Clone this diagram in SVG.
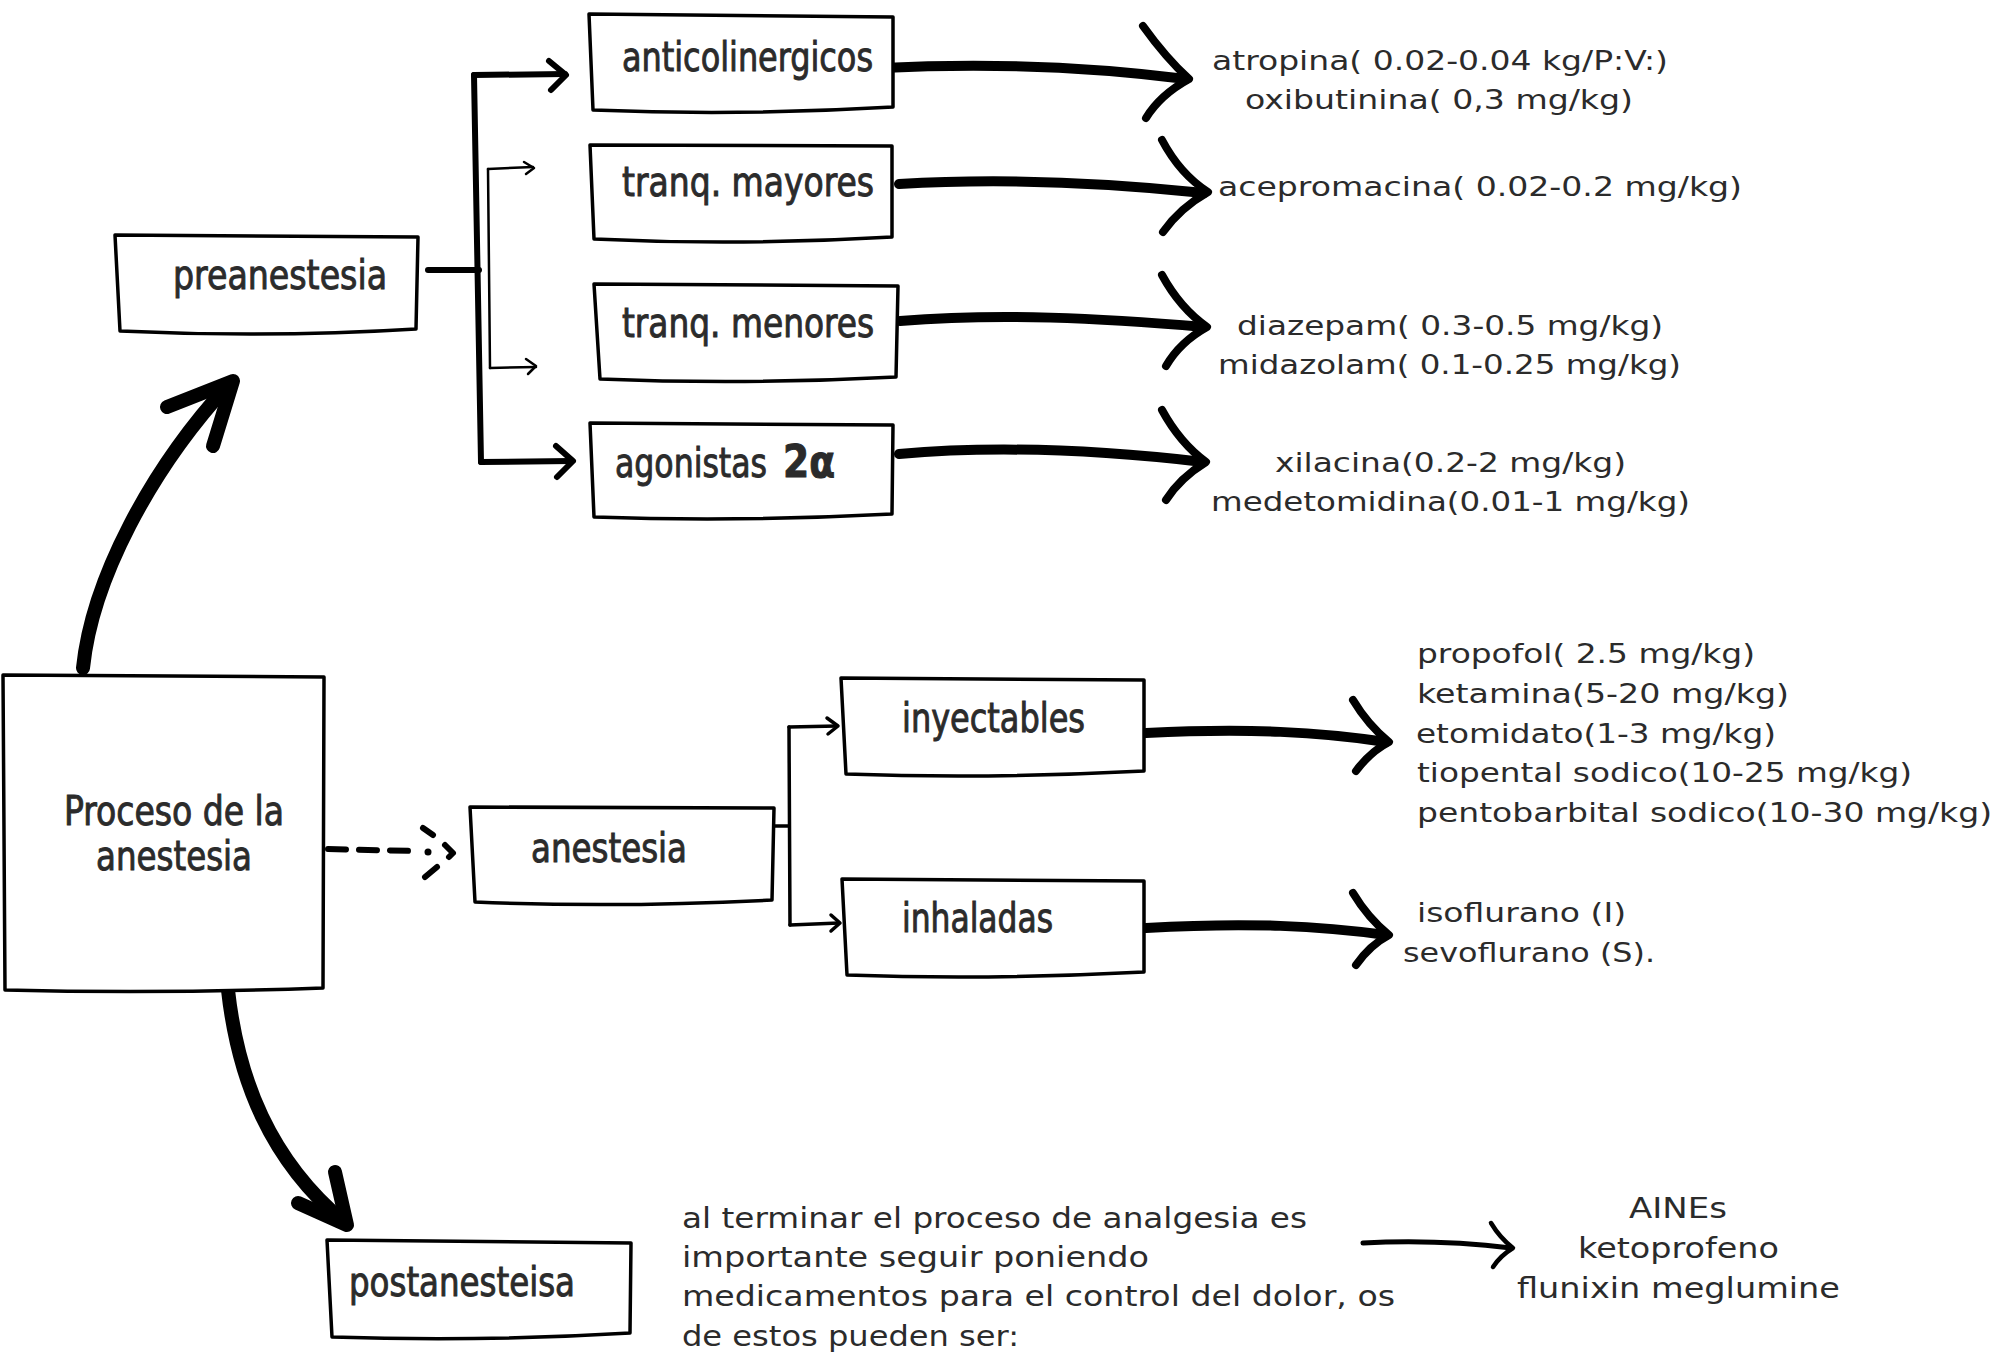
<svg xmlns="http://www.w3.org/2000/svg" width="2007" height="1361" viewBox="0 0 2007 1361">
<style>
.box{fill:#fff;stroke:#000;stroke-width:3.5;stroke-linejoin:round;stroke-linecap:round}
.nt{font-family:"Liberation Sans Narrow","DejaVu Sans Condensed","Liberation Sans",sans-serif;font-size:40px;fill:#2b2b2b;stroke:#2b2b2b;stroke-width:0.9}
.it{font-family:"DejaVu Sans","Liberation Sans",sans-serif;font-size:26px;fill:#2b2b2b}
.pt{font-family:"DejaVu Sans","Liberation Sans",sans-serif;font-size:28px;fill:#2b2b2b}
.thick{fill:none;stroke:#000;stroke-width:10;stroke-linecap:round;stroke-linejoin:round}
.head{fill:none;stroke:#000;stroke-width:8;stroke-linecap:round;stroke-linejoin:round}
.big{fill:none;stroke:#000;stroke-width:14;stroke-linecap:round;stroke-linejoin:round}
.br{fill:none;stroke:#000;stroke-width:6;stroke-linecap:round;stroke-linejoin:round}
.thin{fill:none;stroke:#000;stroke-width:2.5;stroke-linecap:round;stroke-linejoin:round}
.mid{fill:none;stroke:#000;stroke-width:3.5;stroke-linecap:round;stroke-linejoin:round}
</style>
<rect width="2007" height="1361" fill="#fff"/>

<g id="connectors">
  <path class="big" d="M83 668 C92 580 150 470 228 385"/>
  <path class="big" d="M167 407 L233 381 L213 446"/>
  <path class="big" d="M228 990 C238 1080 270 1160 344 1222"/>
  <path class="big" d="M298 1203 L347 1225 L335 1172"/>
  <path class="br" d="M328 849 L415 851" stroke-dasharray="18 13"/>
  <circle cx="428" cy="852" r="3.5" fill="#000"/>
  <path class="br" d="M423 828 L433 835"/>
  <path class="br" d="M445 845 L453 853 L449 857"/>
  <path class="br" d="M437 867 L425 877"/>
  <path class="br" d="M428 270 L479 270"/>
  <path class="br" d="M474 75 L481 462"/>
  <path class="br" d="M474 75 L565 74"/>
  <path class="br" d="M549 61 L566 75 L551 90"/>
  <path class="br" d="M481 462 L571 461"/>
  <path class="br" d="M556 446 L573 461 L557 477"/>
  <path class="thin" d="M488 169 L490 368"/>
  <path class="thin" d="M488 169 L533 167"/>
  <path class="thin" d="M524 162 L534 168 L526 174"/>
  <path class="thin" d="M490 368 L536 367"/>
  <path class="thin" d="M526 359 L536 366 L528 374"/>
  <path class="thick" d="M882 68 C1000 62 1100 68 1186 79"/>
  <path class="head" d="M1143 26 Q1166 58 1189 79 Q1160 95 1146 118"/>
  <path class="thick" d="M899 184 C1000 178 1100 182 1204 193"/>
  <path class="head" d="M1162 140 Q1180 174 1208 192 Q1180 208 1163 232"/>
  <path class="thick" d="M900 321 C1000 313 1100 318 1204 327"/>
  <path class="head" d="M1162 275 Q1180 308 1207 327 Q1180 342 1166 366"/>
  <path class="thick" d="M899 454 C1000 445 1100 450 1203 462"/>
  <path class="head" d="M1162 410 Q1180 443 1206 462 Q1180 478 1166 500"/>
  <path class="mid" d="M767 826 L789 826"/>
  <path class="mid" d="M789 727 L790 925"/>
  <path class="mid" d="M789 727 L837 726"/>
  <path class="mid" d="M827 718 L838 726 L828 734"/>
  <path class="mid" d="M790 925 L839 923"/>
  <path class="mid" d="M831 915 L840 923 L831 931"/>
  <path class="thick" d="M1146 733 C1250 728 1320 732 1386 742"/>
  <path class="head" d="M1353 700 Q1368 725 1389 742 Q1370 752 1356 771"/>
  <path class="thick" d="M1146 928 C1250 922 1320 926 1386 935"/>
  <path class="head" d="M1353 893 Q1368 918 1389 935 Q1370 945 1356 965"/>
  <path class="mid" style="stroke-width:5" d="M1363 1243 C1420 1240 1470 1243 1511 1248"/>
  <path class="mid" style="stroke-width:4.5" d="M1491 1223 Q1500 1238 1513 1248 Q1500 1256 1493 1267"/>
</g>

<g id="node-proceso">
  <path class="box" d="M3 675 L324 677 L323 988 Q160 994 5 990 Z"/>
  <text class="nt" x="64" y="825" font-size="42" textLength="220" lengthAdjust="spacingAndGlyphs">Proceso de la</text>
  <text class="nt" x="96" y="870" font-size="42" textLength="156" lengthAdjust="spacingAndGlyphs">anestesia</text>
</g>
<g id="node-preanestesia">
  <path class="box" d="M115 235 L418 237 L416 329 Q270 338 120 331 Z"/>
  <text class="nt" x="173" y="289" textLength="214" lengthAdjust="spacingAndGlyphs">preanestesia</text>
</g>
<g id="node-anticolinergicos">
  <path class="box" d="M589 14 L893 17 L893 107 Q740 116 593 110 Z"/>
  <text class="nt" x="622" y="71" textLength="251" lengthAdjust="spacingAndGlyphs">anticolinergicos</text>
</g>
<g id="node-tranq-mayores">
  <path class="box" d="M590 145 L892 146 L892 237 Q740 246 594 239 Z"/>
  <text class="nt" x="622" y="196" textLength="252" lengthAdjust="spacingAndGlyphs">tranq. mayores</text>
</g>
<g id="node-tranq-menores">
  <path class="box" d="M594 284 L898 286 L896 377 Q745 385 600 379 Z"/>
  <text class="nt" x="622" y="337" textLength="252" lengthAdjust="spacingAndGlyphs">tranq. menores</text>
</g>
<g id="node-agonistas">
  <path class="box" d="M590 423 L893 425 L892 514 Q740 522 594 517 Z"/>
  <text class="nt" y="477"><tspan x="615" textLength="152" lengthAdjust="spacingAndGlyphs">agonistas</tspan><tspan x="783" font-weight="bold" font-size="44" textLength="52" lengthAdjust="spacingAndGlyphs">2α</tspan></text>
</g>
<g id="node-anestesia">
  <path class="box" d="M470 807 L774 808 L772 900 Q620 908 475 902 Z"/>
  <text class="nt" x="531" y="862" textLength="156" lengthAdjust="spacingAndGlyphs">anestesia</text>
</g>
<g id="node-inyectables">
  <path class="box" d="M841 678 L1144 680 L1144 771 Q990 779 846 774 Z"/>
  <text class="nt" x="902" y="732" textLength="183" lengthAdjust="spacingAndGlyphs">inyectables</text>
</g>
<g id="node-inhaladas">
  <path class="box" d="M842 879 L1144 881 L1144 972 Q990 980 847 975 Z"/>
  <text class="nt" x="902" y="932" textLength="151" lengthAdjust="spacingAndGlyphs">inhaladas</text>
</g>
<g id="node-postanesteisa">
  <path class="box" d="M327 1240 L631 1243 L630 1333 Q480 1342 332 1337 Z"/>
  <text class="nt" x="349" y="1296" textLength="226" lengthAdjust="spacingAndGlyphs">postanesteisa</text>
</g>

<g id="info-anticolinergicos">
  <text class="it" x="1212" y="70" textLength="456" lengthAdjust="spacingAndGlyphs">atropina( 0.02-0.04 kg/P:V:)</text>
  <text class="it" x="1245" y="109" textLength="388" lengthAdjust="spacingAndGlyphs">oxibutinina( 0,3 mg/kg)</text>
</g>
<g id="info-mayores">
  <text class="it" x="1218" y="196" textLength="524" lengthAdjust="spacingAndGlyphs">acepromacina( 0.02-0.2 mg/kg)</text>
</g>
<g id="info-menores">
  <text class="it" x="1237" y="335" textLength="426" lengthAdjust="spacingAndGlyphs">diazepam( 0.3-0.5 mg/kg)</text>
  <text class="it" x="1218" y="374" textLength="463" lengthAdjust="spacingAndGlyphs">midazolam( 0.1-0.25 mg/kg)</text>
</g>
<g id="info-agonistas">
  <text class="it" x="1275" y="472" textLength="351" lengthAdjust="spacingAndGlyphs">xilacina(0.2-2 mg/kg)</text>
  <text class="it" x="1211" y="511" textLength="479" lengthAdjust="spacingAndGlyphs">medetomidina(0.01-1 mg/kg)</text>
</g>
<g id="info-inyectables">
  <text class="it" x="1417" y="663" textLength="338" lengthAdjust="spacingAndGlyphs">propofol( 2.5 mg/kg)</text>
  <text class="it" x="1417" y="703" textLength="372" lengthAdjust="spacingAndGlyphs">ketamina(5-20 mg/kg)</text>
  <text class="it" x="1416" y="743" textLength="360" lengthAdjust="spacingAndGlyphs">etomidato(1-3 mg/kg)</text>
  <text class="it" x="1417" y="782" textLength="495" lengthAdjust="spacingAndGlyphs">tiopental sodico(10-25 mg/kg)</text>
  <text class="it" x="1417" y="822" textLength="575" lengthAdjust="spacingAndGlyphs">pentobarbital sodico(10-30 mg/kg)</text>
</g>
<g id="info-inhaladas">
  <text class="it" x="1417" y="922" textLength="209" lengthAdjust="spacingAndGlyphs">isoflurano (I)</text>
  <text class="it" x="1403" y="962" textLength="252" lengthAdjust="spacingAndGlyphs">sevoflurano (S).</text>
</g>
<g id="info-postanestesia">
  <text class="pt" x="682" y="1228" textLength="625" lengthAdjust="spacingAndGlyphs">al terminar el proceso de analgesia es</text>
  <text class="pt" x="682" y="1267" textLength="467" lengthAdjust="spacingAndGlyphs">importante seguir poniendo</text>
  <text class="pt" x="682" y="1306" textLength="713" lengthAdjust="spacingAndGlyphs">medicamentos para el control del dolor, os</text>
  <text class="pt" x="682" y="1346" textLength="337" lengthAdjust="spacingAndGlyphs">de estos pueden ser:</text>
</g>
<g id="info-aines">
  <text class="pt" x="1629" y="1218" textLength="98" lengthAdjust="spacingAndGlyphs">AINEs</text>
  <text class="pt" x="1578" y="1258" textLength="201" lengthAdjust="spacingAndGlyphs">ketoprofeno</text>
  <text class="pt" x="1517" y="1298" textLength="323" lengthAdjust="spacingAndGlyphs">flunixin meglumine</text>
</g>
</svg>
